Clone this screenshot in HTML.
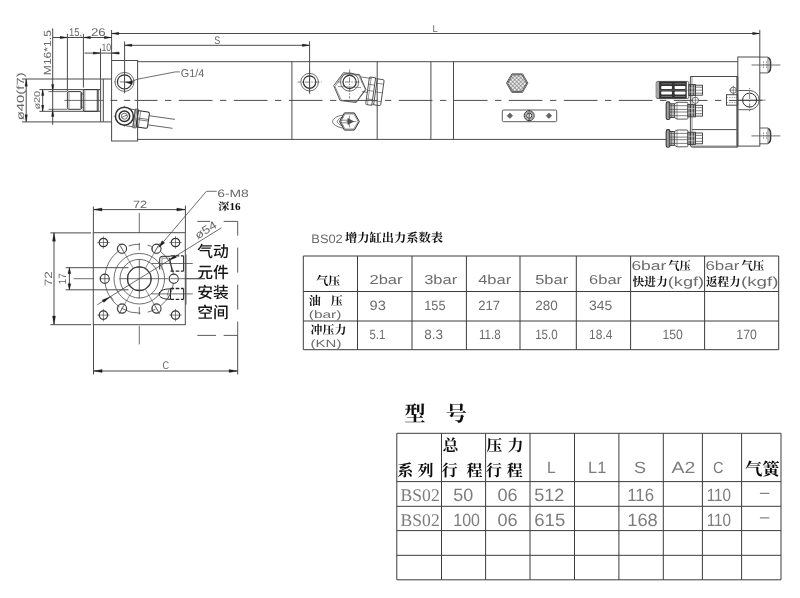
<!DOCTYPE html>
<html lang="zh">
<head>
<meta charset="utf-8">
<title>BS02 增力缸</title>
<style>
html,body{margin:0;padding:0;background:#fff;}
body{width:800px;height:598px;overflow:hidden;font-family:"Liberation Sans","Noto Sans CJK SC",sans-serif;}
svg{display:block;will-change:transform;}
text{text-rendering:geometricPrecision;}
</style>
</head>
<body>
<svg width="800" height="598" viewBox="0 0 800 598">
<rect x="0" y="0" width="800" height="598" fill="#ffffff"/>
<g id="table1">
<line x1="303.30" y1="256.00" x2="303.30" y2="349.70" stroke="#3c3c3c" stroke-width="1.0"/>
<line x1="357.50" y1="256.00" x2="357.50" y2="349.70" stroke="#3c3c3c" stroke-width="1.0"/>
<line x1="412.00" y1="256.00" x2="412.00" y2="349.70" stroke="#3c3c3c" stroke-width="1.0"/>
<line x1="466.40" y1="256.00" x2="466.40" y2="349.70" stroke="#3c3c3c" stroke-width="1.0"/>
<line x1="520.00" y1="256.00" x2="520.00" y2="349.70" stroke="#3c3c3c" stroke-width="1.0"/>
<line x1="576.30" y1="256.00" x2="576.30" y2="349.70" stroke="#3c3c3c" stroke-width="1.0"/>
<line x1="630.60" y1="256.00" x2="630.60" y2="349.70" stroke="#3c3c3c" stroke-width="1.0"/>
<line x1="704.60" y1="256.00" x2="704.60" y2="349.70" stroke="#3c3c3c" stroke-width="1.0"/>
<line x1="778.70" y1="256.00" x2="778.70" y2="349.70" stroke="#3c3c3c" stroke-width="1.0"/>
<line x1="303.30" y1="256.00" x2="778.70" y2="256.00" stroke="#3c3c3c" stroke-width="1.0"/>
<line x1="303.30" y1="291.50" x2="778.70" y2="291.50" stroke="#3c3c3c" stroke-width="1.0"/>
<line x1="303.30" y1="321.00" x2="778.70" y2="321.00" stroke="#3c3c3c" stroke-width="1.0"/>
<line x1="303.30" y1="349.70" x2="778.70" y2="349.70" stroke="#3c3c3c" stroke-width="1.0"/>
<text x="311.30" y="242.60" font-family='"Liberation Sans", "Noto Sans CJK SC", sans-serif' font-size="12.2" fill="#6c6c6c" textLength="31.5" lengthAdjust="spacingAndGlyphs">BS02</text>
<text x="345.00" y="242.40" font-family='"Liberation Serif", "Noto Serif CJK SC", serif' font-size="12.2" fill="#111" font-weight="bold" textLength="98" lengthAdjust="spacingAndGlyphs">增力缸出力系数表</text>
<text x="316.30" y="284.60" font-family='"Liberation Serif", "Noto Serif CJK SC", serif' font-size="12" fill="#111" font-weight="bold" textLength="24" lengthAdjust="spacingAndGlyphs">气压</text>
<text x="369.50" y="284.00" font-family='"Liberation Sans", "Noto Sans CJK SC", sans-serif' font-size="13" fill="#6c6c6c" textLength="33" lengthAdjust="spacingAndGlyphs">2bar</text>
<text x="424.20" y="284.00" font-family='"Liberation Sans", "Noto Sans CJK SC", sans-serif' font-size="13" fill="#6c6c6c" textLength="33" lengthAdjust="spacingAndGlyphs">3bar</text>
<text x="478.20" y="284.00" font-family='"Liberation Sans", "Noto Sans CJK SC", sans-serif' font-size="13" fill="#6c6c6c" textLength="33" lengthAdjust="spacingAndGlyphs">4bar</text>
<text x="535.20" y="284.00" font-family='"Liberation Sans", "Noto Sans CJK SC", sans-serif' font-size="13" fill="#6c6c6c" textLength="33" lengthAdjust="spacingAndGlyphs">5bar</text>
<text x="589.10" y="284.00" font-family='"Liberation Sans", "Noto Sans CJK SC", sans-serif' font-size="13" fill="#6c6c6c" textLength="33" lengthAdjust="spacingAndGlyphs">6bar</text>
<text x="631.40" y="270.00" font-family='"Liberation Sans", "Noto Sans CJK SC", sans-serif' font-size="13" fill="#6c6c6c" textLength="35" lengthAdjust="spacingAndGlyphs">6bar</text>
<text x="668.30" y="270.00" font-family='"Liberation Serif", "Noto Serif CJK SC", serif' font-size="12" fill="#111" font-weight="bold" textLength="22.5" lengthAdjust="spacingAndGlyphs">气压</text>
<text x="632.60" y="286.30" font-family='"Liberation Serif", "Noto Serif CJK SC", serif' font-size="12" fill="#111" font-weight="bold" textLength="35.2" lengthAdjust="spacingAndGlyphs">快进力</text>
<text x="667.80" y="286.00" font-family='"Liberation Sans", "Noto Sans CJK SC", sans-serif' font-size="13" fill="#6c6c6c" textLength="36.3" lengthAdjust="spacingAndGlyphs">(kgf)</text>
<text x="705.40" y="270.00" font-family='"Liberation Sans", "Noto Sans CJK SC", sans-serif' font-size="13" fill="#6c6c6c" textLength="34" lengthAdjust="spacingAndGlyphs">6bar</text>
<text x="741.30" y="270.00" font-family='"Liberation Serif", "Noto Serif CJK SC", serif' font-size="12" fill="#111" font-weight="bold" textLength="23" lengthAdjust="spacingAndGlyphs">气压</text>
<text x="705.90" y="286.30" font-family='"Liberation Serif", "Noto Serif CJK SC", serif' font-size="12" fill="#111" font-weight="bold" textLength="34.6" lengthAdjust="spacingAndGlyphs">返程力</text>
<text x="741.00" y="286.00" font-family='"Liberation Sans", "Noto Sans CJK SC", sans-serif' font-size="13" fill="#6c6c6c" textLength="37.5" lengthAdjust="spacingAndGlyphs">(kgf)</text>
<text x="308.80" y="305.00" font-family='"Liberation Serif", "Noto Serif CJK SC", serif' font-size="12" fill="#111" font-weight="bold">油</text>
<text x="330.70" y="305.00" font-family='"Liberation Serif", "Noto Serif CJK SC", serif' font-size="12" fill="#111" font-weight="bold">压</text>
<text x="308.80" y="318.30" font-family='"Liberation Sans", "Noto Sans CJK SC", sans-serif' font-size="10.6" fill="#6c6c6c" textLength="32.6" lengthAdjust="spacingAndGlyphs">(bar)</text>
<text x="369.50" y="310.30" font-family='"Liberation Sans", "Noto Sans CJK SC", sans-serif' font-size="13.5" fill="#6c6c6c" textLength="16.3" lengthAdjust="spacingAndGlyphs">93</text>
<text x="424.20" y="310.30" font-family='"Liberation Sans", "Noto Sans CJK SC", sans-serif' font-size="13.5" fill="#6c6c6c" textLength="21.4" lengthAdjust="spacingAndGlyphs">155</text>
<text x="478.20" y="310.30" font-family='"Liberation Sans", "Noto Sans CJK SC", sans-serif' font-size="13.5" fill="#6c6c6c" textLength="21.8" lengthAdjust="spacingAndGlyphs">217</text>
<text x="535.20" y="310.30" font-family='"Liberation Sans", "Noto Sans CJK SC", sans-serif' font-size="13.5" fill="#6c6c6c" textLength="22.5" lengthAdjust="spacingAndGlyphs">280</text>
<text x="589.10" y="310.30" font-family='"Liberation Sans", "Noto Sans CJK SC", sans-serif' font-size="13.5" fill="#6c6c6c" textLength="23.3" lengthAdjust="spacingAndGlyphs">345</text>
<text x="310.60" y="333.60" font-family='"Liberation Serif", "Noto Serif CJK SC", serif' font-size="12" fill="#111" font-weight="bold" textLength="35.8" lengthAdjust="spacingAndGlyphs">冲压力</text>
<text x="310.60" y="347.20" font-family='"Liberation Sans", "Noto Sans CJK SC", sans-serif' font-size="10.6" fill="#6c6c6c" textLength="30.8" lengthAdjust="spacingAndGlyphs">(KN)</text>
<text x="369.50" y="339.20" font-family='"Liberation Sans", "Noto Sans CJK SC", sans-serif' font-size="13.5" fill="#6c6c6c" textLength="15.8" lengthAdjust="spacingAndGlyphs">5.1</text>
<text x="424.20" y="339.20" font-family='"Liberation Sans", "Noto Sans CJK SC", sans-serif' font-size="13.5" fill="#6c6c6c" textLength="18.8" lengthAdjust="spacingAndGlyphs">8.3</text>
<text x="478.90" y="339.20" font-family='"Liberation Sans", "Noto Sans CJK SC", sans-serif' font-size="13.5" fill="#6c6c6c" textLength="21.7" lengthAdjust="spacingAndGlyphs">11.8</text>
<text x="535.20" y="339.20" font-family='"Liberation Sans", "Noto Sans CJK SC", sans-serif' font-size="13.5" fill="#6c6c6c" textLength="22.5" lengthAdjust="spacingAndGlyphs">15.0</text>
<text x="589.10" y="339.20" font-family='"Liberation Sans", "Noto Sans CJK SC", sans-serif' font-size="13.5" fill="#6c6c6c" textLength="23.3" lengthAdjust="spacingAndGlyphs">18.4</text>
<text x="662.40" y="339.20" font-family='"Liberation Sans", "Noto Sans CJK SC", sans-serif' font-size="13.5" fill="#6c6c6c" textLength="20.4" lengthAdjust="spacingAndGlyphs">150</text>
<text x="736.30" y="339.20" font-family='"Liberation Sans", "Noto Sans CJK SC", sans-serif' font-size="13.5" fill="#6c6c6c" textLength="20.5" lengthAdjust="spacingAndGlyphs">170</text>
</g>
<g id="table2">
<line x1="396.80" y1="433.30" x2="396.80" y2="579.80" stroke="#3c3c3c" stroke-width="1.0"/>
<line x1="441.50" y1="433.30" x2="441.50" y2="579.80" stroke="#3c3c3c" stroke-width="1.0"/>
<line x1="485.60" y1="433.30" x2="485.60" y2="579.80" stroke="#3c3c3c" stroke-width="1.0"/>
<line x1="530.00" y1="433.30" x2="530.00" y2="579.80" stroke="#3c3c3c" stroke-width="1.0"/>
<line x1="574.50" y1="433.30" x2="574.50" y2="579.80" stroke="#3c3c3c" stroke-width="1.0"/>
<line x1="618.90" y1="433.30" x2="618.90" y2="579.80" stroke="#3c3c3c" stroke-width="1.0"/>
<line x1="663.30" y1="433.30" x2="663.30" y2="579.80" stroke="#3c3c3c" stroke-width="1.0"/>
<line x1="702.40" y1="433.30" x2="702.40" y2="579.80" stroke="#3c3c3c" stroke-width="1.0"/>
<line x1="741.60" y1="433.30" x2="741.60" y2="579.80" stroke="#3c3c3c" stroke-width="1.0"/>
<line x1="781.00" y1="433.30" x2="781.00" y2="579.80" stroke="#3c3c3c" stroke-width="1.0"/>
<line x1="396.80" y1="433.30" x2="781.00" y2="433.30" stroke="#3c3c3c" stroke-width="1.0"/>
<line x1="396.80" y1="481.60" x2="781.00" y2="481.60" stroke="#3c3c3c" stroke-width="1.0"/>
<line x1="396.80" y1="506.30" x2="781.00" y2="506.30" stroke="#3c3c3c" stroke-width="1.0"/>
<line x1="396.80" y1="530.60" x2="781.00" y2="530.60" stroke="#3c3c3c" stroke-width="1.0"/>
<line x1="396.80" y1="555.30" x2="781.00" y2="555.30" stroke="#3c3c3c" stroke-width="1.0"/>
<line x1="396.80" y1="579.80" x2="781.00" y2="579.80" stroke="#3c3c3c" stroke-width="1.0"/>
<text x="404.60" y="420.80" font-family='"Liberation Serif", "Noto Serif CJK SC", serif' font-size="21" fill="#0c0c0c" font-weight="bold">型</text>
<text x="445.80" y="420.80" font-family='"Liberation Serif", "Noto Serif CJK SC", serif' font-size="21" fill="#0c0c0c" font-weight="bold">号</text>
<text x="442.60" y="451.20" font-family='"Liberation Serif", "Noto Serif CJK SC", serif' font-size="16" fill="#0c0c0c" font-weight="bold">总</text>
<text x="486.20" y="451.20" font-family='"Liberation Serif", "Noto Serif CJK SC", serif' font-size="16" fill="#0c0c0c" font-weight="bold">压</text>
<text x="507.40" y="451.20" font-family='"Liberation Serif", "Noto Serif CJK SC", serif' font-size="16" fill="#0c0c0c" font-weight="bold">力</text>
<text x="397.20" y="476.20" font-family='"Liberation Serif", "Noto Serif CJK SC", serif' font-size="16" fill="#0c0c0c" font-weight="bold">系</text>
<text x="417.40" y="476.20" font-family='"Liberation Serif", "Noto Serif CJK SC", serif' font-size="16" fill="#0c0c0c" font-weight="bold">列</text>
<text x="441.80" y="476.20" font-family='"Liberation Serif", "Noto Serif CJK SC", serif' font-size="16" fill="#0c0c0c" font-weight="bold">行</text>
<text x="466.60" y="476.20" font-family='"Liberation Serif", "Noto Serif CJK SC", serif' font-size="16" fill="#0c0c0c" font-weight="bold">程</text>
<text x="486.00" y="476.20" font-family='"Liberation Serif", "Noto Serif CJK SC", serif' font-size="16" fill="#0c0c0c" font-weight="bold">行</text>
<text x="506.80" y="476.20" font-family='"Liberation Serif", "Noto Serif CJK SC", serif' font-size="16" fill="#0c0c0c" font-weight="bold">程</text>
<text x="546.90" y="473.30" font-family='"Liberation Sans", "Noto Sans CJK SC", sans-serif' font-size="16.2" fill="#7c7c7c" textLength="8.7" lengthAdjust="spacingAndGlyphs">L</text>
<text x="588.00" y="473.30" font-family='"Liberation Sans", "Noto Sans CJK SC", sans-serif' font-size="16.2" fill="#7c7c7c" textLength="18.3" lengthAdjust="spacingAndGlyphs">L1</text>
<text x="633.90" y="473.30" font-family='"Liberation Sans", "Noto Sans CJK SC", sans-serif' font-size="16.2" fill="#7c7c7c" textLength="12.1" lengthAdjust="spacingAndGlyphs">S</text>
<text x="671.60" y="473.30" font-family='"Liberation Sans", "Noto Sans CJK SC", sans-serif' font-size="16.2" fill="#7c7c7c" textLength="23.8" lengthAdjust="spacingAndGlyphs">A2</text>
<text x="713.00" y="473.30" font-family='"Liberation Sans", "Noto Sans CJK SC", sans-serif' font-size="16.2" fill="#7c7c7c" textLength="10.5" lengthAdjust="spacingAndGlyphs">C</text>
<text x="744.90" y="475.30" font-family='"Liberation Serif", "Noto Serif CJK SC", serif' font-size="17" fill="#0c0c0c" font-weight="bold" textLength="34.6" lengthAdjust="spacingAndGlyphs">气簧</text>
<text x="400.60" y="500.90" font-family='"Liberation Serif", "Noto Serif CJK SC", serif' font-size="17.8" fill="#7c7c7c" textLength="39.1" lengthAdjust="spacingAndGlyphs">BS02</text>
<text x="453.30" y="500.90" font-family='"Liberation Sans", "Noto Sans CJK SC", sans-serif' font-size="17.8" fill="#7c7c7c" textLength="20" lengthAdjust="spacingAndGlyphs">50</text>
<text x="497.40" y="500.90" font-family='"Liberation Sans", "Noto Sans CJK SC", sans-serif' font-size="17.8" fill="#7c7c7c" textLength="20.1" lengthAdjust="spacingAndGlyphs">06</text>
<text x="534.30" y="500.90" font-family='"Liberation Sans", "Noto Sans CJK SC", sans-serif' font-size="17.8" fill="#7c7c7c" textLength="30.1" lengthAdjust="spacingAndGlyphs">512</text>
<text x="627.20" y="500.90" font-family='"Liberation Sans", "Noto Sans CJK SC", sans-serif' font-size="17.8" fill="#7c7c7c" textLength="26.8" lengthAdjust="spacingAndGlyphs">116</text>
<text x="706.70" y="500.90" font-family='"Liberation Sans", "Noto Sans CJK SC", sans-serif' font-size="17.8" fill="#7c7c7c" textLength="24.3" lengthAdjust="spacingAndGlyphs">110</text>
<text x="400.60" y="525.60" font-family='"Liberation Serif", "Noto Serif CJK SC", serif' font-size="17.8" fill="#7c7c7c" textLength="39.1" lengthAdjust="spacingAndGlyphs">BS02</text>
<text x="453.30" y="525.60" font-family='"Liberation Sans", "Noto Sans CJK SC", sans-serif' font-size="17.8" fill="#7c7c7c" textLength="26.6" lengthAdjust="spacingAndGlyphs">100</text>
<text x="497.40" y="525.60" font-family='"Liberation Sans", "Noto Sans CJK SC", sans-serif' font-size="17.8" fill="#7c7c7c" textLength="20.1" lengthAdjust="spacingAndGlyphs">06</text>
<text x="534.30" y="525.60" font-family='"Liberation Sans", "Noto Sans CJK SC", sans-serif' font-size="17.8" fill="#7c7c7c" textLength="30.9" lengthAdjust="spacingAndGlyphs">615</text>
<text x="627.20" y="525.60" font-family='"Liberation Sans", "Noto Sans CJK SC", sans-serif' font-size="17.8" fill="#7c7c7c" textLength="30.6" lengthAdjust="spacingAndGlyphs">168</text>
<text x="706.70" y="525.60" font-family='"Liberation Sans", "Noto Sans CJK SC", sans-serif' font-size="17.8" fill="#7c7c7c" textLength="24.3" lengthAdjust="spacingAndGlyphs">110</text>
<line x1="759.90" y1="493.30" x2="769.40" y2="493.30" stroke="#666" stroke-width="1.0"/>
<line x1="759.90" y1="517.90" x2="769.40" y2="517.90" stroke="#666" stroke-width="1.0"/>
</g>
<g id="topview">
<line x1="111.60" y1="33.50" x2="759.80" y2="33.50" stroke="#4a4a4a" stroke-width="1.0"/>
<polygon points="111.60,33.50 118.80,32.30 118.80,34.70" fill="#1c1c1c" stroke="#1c1c1c" stroke-width="0.3"/>
<polygon points="759.80,33.50 752.60,34.70 752.60,32.30" fill="#1c1c1c" stroke="#1c1c1c" stroke-width="0.3"/>
<line x1="111.60" y1="30.00" x2="111.60" y2="60.40" stroke="#4a4a4a" stroke-width="1.0"/>
<line x1="759.80" y1="29.80" x2="759.80" y2="57.00" stroke="#4a4a4a" stroke-width="1.0"/>
<text x="432.60" y="32.00" font-family='"Liberation Sans", "Noto Sans CJK SC", sans-serif' font-size="9.8" fill="#686868" textLength="5.2" lengthAdjust="spacingAndGlyphs">L</text>
<line x1="124.60" y1="45.30" x2="309.60" y2="45.30" stroke="#4a4a4a" stroke-width="1.0"/>
<polygon points="124.60,45.30 131.80,44.10 131.80,46.50" fill="#1c1c1c" stroke="#1c1c1c" stroke-width="0.3"/>
<polygon points="309.60,45.30 302.40,46.50 302.40,44.10" fill="#1c1c1c" stroke="#1c1c1c" stroke-width="0.3"/>
<line x1="124.60" y1="41.40" x2="124.60" y2="93.40" stroke="#4a4a4a" stroke-width="1.0"/>
<line x1="309.60" y1="41.40" x2="309.60" y2="93.40" stroke="#4a4a4a" stroke-width="1.0"/>
<text x="214.20" y="44.00" font-family='"Liberation Sans", "Noto Sans CJK SC", sans-serif' font-size="11" fill="#686868" textLength="6.0" lengthAdjust="spacingAndGlyphs">S</text>
<line x1="52.70" y1="37.50" x2="111.60" y2="37.50" stroke="#4a4a4a" stroke-width="1.0"/>
<polygon points="67.40,37.50 60.20,38.70 60.20,36.30" fill="#1c1c1c" stroke="#1c1c1c" stroke-width="0.3"/>
<polygon points="83.20,37.50 90.40,36.30 90.40,38.70" fill="#1c1c1c" stroke="#1c1c1c" stroke-width="0.3"/>
<polygon points="111.60,37.50 104.40,38.70 104.40,36.30" fill="#1c1c1c" stroke="#1c1c1c" stroke-width="0.3"/>
<line x1="67.40" y1="33.80" x2="67.40" y2="91.00" stroke="#4a4a4a" stroke-width="1.0"/>
<line x1="83.40" y1="33.80" x2="83.40" y2="87.60" stroke="#4a4a4a" stroke-width="1.0"/>
<text x="68.90" y="35.60" font-family='"Liberation Sans", "Noto Sans CJK SC", sans-serif' font-size="11.2" fill="#686868" textLength="13.2" lengthAdjust="spacingAndGlyphs">15,</text>
<text x="90.90" y="35.60" font-family='"Liberation Sans", "Noto Sans CJK SC", sans-serif' font-size="11.2" fill="#686868" textLength="14.8" lengthAdjust="spacingAndGlyphs">26</text>
<line x1="84.50" y1="53.10" x2="120.00" y2="53.10" stroke="#4a4a4a" stroke-width="1.0"/>
<polygon points="100.50,53.10 93.30,54.30 93.30,51.90" fill="#1c1c1c" stroke="#1c1c1c" stroke-width="0.3"/>
<polygon points="111.60,53.10 118.80,51.90 118.80,54.30" fill="#1c1c1c" stroke="#1c1c1c" stroke-width="0.3"/>
<line x1="100.50" y1="48.50" x2="100.50" y2="78.90" stroke="#4a4a4a" stroke-width="1.0"/>
<text x="101.40" y="50.50" font-family='"Liberation Sans", "Noto Sans CJK SC", sans-serif' font-size="10.6" fill="#686868" textLength="9.8" lengthAdjust="spacingAndGlyphs">10</text>
<line x1="52.70" y1="28.30" x2="52.70" y2="124.90" stroke="#4a4a4a" stroke-width="1.0"/>
<polygon points="52.70,91.60 51.50,84.40 53.90,84.40" fill="#1c1c1c" stroke="#1c1c1c" stroke-width="0.3"/>
<polygon points="52.70,109.30 53.90,116.50 51.50,116.50" fill="#1c1c1c" stroke="#1c1c1c" stroke-width="0.3"/>
<line x1="48.50" y1="91.60" x2="67.40" y2="91.60" stroke="#4a4a4a" stroke-width="0.8"/>
<line x1="48.50" y1="109.30" x2="67.40" y2="109.30" stroke="#4a4a4a" stroke-width="0.8"/>
<text x="50.80" y="75.20" font-family='"Liberation Sans", "Noto Sans CJK SC", sans-serif' font-size="10.4" fill="#686868" textLength="45.1" lengthAdjust="spacingAndGlyphs" transform="rotate(-90 50.80 75.20)">M16*1.5</text>
<line x1="42.70" y1="89.60" x2="42.70" y2="111.30" stroke="#4a4a4a" stroke-width="1.0"/>
<polygon points="42.70,89.60 43.90,95.60 41.50,95.60" fill="#1c1c1c" stroke="#1c1c1c" stroke-width="0.3"/>
<polygon points="42.70,111.30 41.50,105.30 43.90,105.30" fill="#1c1c1c" stroke="#1c1c1c" stroke-width="0.3"/>
<line x1="39.40" y1="89.60" x2="100.60" y2="89.60" stroke="#4a4a4a" stroke-width="1.0"/>
<line x1="39.40" y1="111.30" x2="100.60" y2="111.30" stroke="#4a4a4a" stroke-width="1.0"/>
<text x="40.40" y="109.60" font-family='"Liberation Sans", "Noto Sans CJK SC", sans-serif' font-size="8.4" fill="#686868" textLength="18.8" lengthAdjust="spacingAndGlyphs" transform="rotate(-90 40.40 109.60)">ø20</text>
<line x1="26.20" y1="79.00" x2="26.20" y2="121.90" stroke="#4a4a4a" stroke-width="1.0"/>
<polygon points="26.20,79.00 27.40,86.20 25.00,86.20" fill="#1c1c1c" stroke="#1c1c1c" stroke-width="0.3"/>
<polygon points="26.20,121.90 25.00,114.70 27.40,114.70" fill="#1c1c1c" stroke="#1c1c1c" stroke-width="0.3"/>
<line x1="22.00" y1="79.00" x2="111.60" y2="79.00" stroke="#4a4a4a" stroke-width="1.0"/>
<line x1="22.00" y1="121.90" x2="111.60" y2="121.90" stroke="#4a4a4a" stroke-width="1.0"/>
<text x="23.80" y="120.30" font-family='"Liberation Sans", "Noto Sans CJK SC", sans-serif' font-size="10.4" fill="#686868" textLength="48" lengthAdjust="spacingAndGlyphs" transform="rotate(-90 23.80 120.30)">ø40(f7)</text>
<line x1="134.60" y1="100.40" x2="770.00" y2="100.40" stroke="#4a4a4a" stroke-width="1.0" stroke-dasharray="33.7 7.5 6.3 7.5" stroke-dashoffset="10.8"/>
<line x1="64.30" y1="100.40" x2="103.30" y2="100.40" stroke="#4a4a4a" stroke-width="0.8"/>
<line x1="110.40" y1="100.40" x2="117.20" y2="100.40" stroke="#4a4a4a" stroke-width="1.0"/>
<line x1="124.20" y1="100.40" x2="130.20" y2="100.40" stroke="#4a4a4a" stroke-width="1.0"/>
<path d="M69.0,91.6 H80.4 Q81.6,91.6 81.6,92.8 V108.1 Q81.6,109.3 80.4,109.3 H69.0 Q67.4,109.3 67.4,107.7 V93.2 Q67.4,91.6 69.0,91.6 Z" fill="none" stroke="#3a3a3a" stroke-width="1.0"/>
<line x1="69.00" y1="92.20" x2="69.00" y2="108.70" stroke="#4a4a4a" stroke-width="0.6"/>
<line x1="80.60" y1="92.20" x2="80.60" y2="108.70" stroke="#4a4a4a" stroke-width="0.6"/>
<line x1="81.60" y1="94.00" x2="83.30" y2="94.00" stroke="#4a4a4a" stroke-width="0.7"/>
<line x1="81.60" y1="107.30" x2="83.30" y2="107.30" stroke="#4a4a4a" stroke-width="0.7"/>
<path d="M84.5,89.6 H97.3 V111.3 H84.5 Q83.3,111.3 83.3,110.1 V90.8 Q83.3,89.6 84.5,89.6 Z" fill="none" stroke="#3a3a3a" stroke-width="1.0"/>
<line x1="84.80" y1="90.20" x2="84.80" y2="110.70" stroke="#4a4a4a" stroke-width="0.6"/>
<line x1="98.60" y1="89.60" x2="98.60" y2="111.30" stroke="#4a4a4a" stroke-width="0.8"/>
<line x1="100.60" y1="79.00" x2="100.60" y2="121.90" stroke="#4a4a4a" stroke-width="1.0"/>
<line x1="103.30" y1="79.00" x2="103.30" y2="121.90" stroke="#4a4a4a" stroke-width="1.0"/>
<rect x="111.60" y="60.50" width="26.00" height="80.50" fill="none" stroke="#4a4a4a" stroke-width="1.0"/>
<line x1="137.60" y1="61.70" x2="737.80" y2="61.70" stroke="#4a4a4a" stroke-width="1.0"/>
<line x1="137.60" y1="139.40" x2="666.30" y2="139.40" stroke="#4a4a4a" stroke-width="1.0"/>
<line x1="291.90" y1="61.70" x2="291.90" y2="139.40" stroke="#4a4a4a" stroke-width="1.0"/>
<line x1="377.20" y1="61.70" x2="377.20" y2="139.40" stroke="#4a4a4a" stroke-width="1.0"/>
<line x1="430.90" y1="61.70" x2="430.90" y2="139.40" stroke="#4a4a4a" stroke-width="1.0"/>
<line x1="453.50" y1="61.70" x2="453.50" y2="139.40" stroke="#4a4a4a" stroke-width="1.0"/>
<circle cx="124.50" cy="81.90" r="9.50" fill="none" stroke="#4a4a4a" stroke-width="0.8"/>
<circle cx="124.50" cy="81.90" r="7.10" fill="none" stroke="#2e2e2e" stroke-width="1.15"/>
<line x1="114.00" y1="81.90" x2="135.00" y2="81.90" stroke="#4a4a4a" stroke-width="0.7" stroke-dasharray="5 1.5 1.5 1.5" stroke-dashoffset="-5.75"/>
<line x1="124.50" y1="71.40" x2="124.50" y2="92.40" stroke="#4a4a4a" stroke-width="0.7" stroke-dasharray="5 1.5 1.5 1.5" stroke-dashoffset="-5.75"/>
<polygon points="124.80,82.00 132.54,81.34 132.15,84.51" fill="#1c1c1c" stroke="#1c1c1c" stroke-width="0.3"/>
<path d="M132.0,81.2 L137.6,79.2 L175.3,71.9 H179.8" fill="none" stroke="#4a4a4a" stroke-width="0.8"/>
<text x="180.80" y="76.80" font-family='"Liberation Sans", "Noto Sans CJK SC", sans-serif' font-size="11.4" fill="#686868" textLength="23.5" lengthAdjust="spacingAndGlyphs">G1/4</text>
<circle cx="309.60" cy="82.10" r="8.80" fill="none" stroke="#4a4a4a" stroke-width="0.8"/>
<circle cx="309.60" cy="82.10" r="6.20" fill="none" stroke="#2e2e2e" stroke-width="1.15"/>
<line x1="297.60" y1="82.10" x2="321.60" y2="82.10" stroke="#4a4a4a" stroke-width="0.7" stroke-dasharray="5 1.5 1.5 1.5" stroke-dashoffset="-7.25"/>
<line x1="309.60" y1="70.10" x2="309.60" y2="94.10" stroke="#4a4a4a" stroke-width="0.7" stroke-dasharray="5 1.5 1.5 1.5" stroke-dashoffset="-7.25"/>
<g transform="rotate(8 124.4 116.2) translate(-0.6 0.7)">
<path d="M127.4,107.60000000000001 H134.9 V124.8 H127.4" fill="none" stroke="#4a4a4a" stroke-width="0.8"/>
<rect x="134.90" y="106.80" width="3.10" height="18.80" fill="none" stroke="#4a4a4a" stroke-width="0.8"/>
<line x1="136.40" y1="106.80" x2="136.40" y2="125.60" stroke="#4a4a4a" stroke-width="0.6"/>
<path d="M139.0,108.0 H147.8 Q149.4,108.0 149.4,109.60000000000001 V122.8 Q149.4,124.4 147.8,124.4 H139.0 Q138.0,124.4 138.0,123.4 V109.0 Q138.0,108.0 139.0,108.0 Z" fill="none" stroke="#2e2e2e" stroke-width="1.0"/>
<line x1="138.00" y1="115.40" x2="149.40" y2="115.40" stroke="#4a4a4a" stroke-width="0.7"/>
<line x1="138.00" y1="117.00" x2="149.40" y2="117.00" stroke="#4a4a4a" stroke-width="0.7"/>
<line x1="140.40" y1="108.00" x2="140.40" y2="124.40" stroke="#4a4a4a" stroke-width="0.6"/>
<line x1="149.40" y1="111.60" x2="175.40" y2="111.60" stroke="#4a4a4a" stroke-width="0.8"/>
<line x1="149.40" y1="120.80" x2="174.40" y2="120.80" stroke="#4a4a4a" stroke-width="0.8"/>
</g>
<circle cx="124.40" cy="116.20" r="9.00" fill="#fff" stroke="#2e2e2e" stroke-width="1.5"/>
<circle cx="124.40" cy="116.20" r="5.30" fill="none" stroke="#2e2e2e" stroke-width="1.5"/>
<circle cx="124.40" cy="116.20" r="3.00" fill="none" stroke="#4a4a4a" stroke-width="0.8"/>
<line x1="121.80" y1="117.40" x2="127.00" y2="115.00" stroke="#4a4a4a" stroke-width="0.8"/>
<line x1="113.90" y1="116.20" x2="116.40" y2="116.20" stroke="#4a4a4a" stroke-width="0.7"/>
<line x1="124.40" y1="105.70" x2="124.40" y2="108.20" stroke="#4a4a4a" stroke-width="0.7"/>
<line x1="124.40" y1="124.20" x2="124.40" y2="126.70" stroke="#4a4a4a" stroke-width="0.7"/>
<polygon points="365.88,89.57 356.13,102.51 340.05,100.54 333.72,85.63 343.47,72.69 359.55,74.66" fill="none" stroke="#4a4a4a" stroke-width="0.9"/>
<polygon points="365.24,89.12 356.52,101.58 341.38,100.25 334.96,86.48 343.68,74.02 358.82,75.35" fill="none" stroke="#4a4a4a" stroke-width="0.6"/>
<g transform="rotate(8 349.8 87.6) translate(0.6 1.3)">
<line x1="358.80" y1="74.20" x2="369.30" y2="74.20" stroke="#4a4a4a" stroke-width="0.7"/>
<line x1="361.80" y1="88.60" x2="367.30" y2="88.60" stroke="#4a4a4a" stroke-width="0.7"/>
<path d="M368.2,73.0 H373.40000000000003 V100.8 H368.2 Q367.2,100.8 367.2,99.8 V74.0 Q367.2,73.0 368.2,73.0 Z" fill="none" stroke="#4a4a4a" stroke-width="0.9"/>
<line x1="367.20" y1="80.40" x2="373.40" y2="80.40" stroke="#4a4a4a" stroke-width="0.6"/>
<line x1="367.20" y1="86.60" x2="373.40" y2="86.60" stroke="#4a4a4a" stroke-width="0.6"/>
<line x1="367.20" y1="95.00" x2="373.40" y2="95.00" stroke="#4a4a4a" stroke-width="0.6"/>
<line x1="369.00" y1="73.00" x2="369.00" y2="100.80" stroke="#4a4a4a" stroke-width="0.5"/>
<path d="M375.2,73.8 H381.0 Q382.2,73.8 382.2,75.0 V98.8 Q382.2,100.0 381.0,100.0 H375.2 Z" fill="none" stroke="#4a4a4a" stroke-width="0.9"/>
<line x1="373.40" y1="73.80" x2="375.20" y2="73.80" stroke="#4a4a4a" stroke-width="0.6"/>
<line x1="373.40" y1="100.00" x2="375.20" y2="100.00" stroke="#4a4a4a" stroke-width="0.6"/>
<line x1="375.20" y1="78.20" x2="382.20" y2="78.20" stroke="#4a4a4a" stroke-width="0.6"/>
<line x1="375.20" y1="87.00" x2="382.20" y2="87.00" stroke="#4a4a4a" stroke-width="0.6"/>
<line x1="375.20" y1="95.80" x2="382.20" y2="95.80" stroke="#4a4a4a" stroke-width="0.6"/>
</g>
<circle cx="349.60" cy="82.00" r="9.10" fill="none" stroke="#4a4a4a" stroke-width="0.8"/>
<circle cx="349.60" cy="82.00" r="6.60" fill="none" stroke="#2e2e2e" stroke-width="1.15"/>
<line x1="337.60" y1="82.00" x2="361.60" y2="82.00" stroke="#4a4a4a" stroke-width="0.7" stroke-dasharray="5 1.5 1.5 1.5" stroke-dashoffset="-7.25"/>
<line x1="349.60" y1="69.50" x2="349.60" y2="98.50" stroke="#4a4a4a" stroke-width="0.7" stroke-dasharray="5 1.5 1.5 1.5" stroke-dashoffset="-7.75"/>
<line x1="338.00" y1="86.50" x2="361.00" y2="87.50" stroke="#4a4a4a" stroke-width="0.6"/>
<path d="M342.9,115.1 C336.4,116.0 332.59999999999997,119.0 332.59999999999997,121.5 C332.59999999999997,124.0 336.4,127.0 342.9,128.1" fill="none" stroke="#4a4a4a" stroke-width="0.8"/>
<path d="M343.4,117.3 C339.4,118.0 337.2,120.0 337.2,121.5 C337.2,123.0 339.4,125.0 343.4,125.9" fill="none" stroke="#4a4a4a" stroke-width="0.7"/>
<polygon points="359.30,121.50 354.35,130.07 344.45,130.07 339.50,121.50 344.45,112.93 354.35,112.93" fill="none" stroke="#2e2e2e" stroke-width="1.0" fill="#fff"/>
<polygon points="358.10,121.50 353.75,129.03 345.05,129.03 340.70,121.50 345.05,113.97 353.75,113.97" fill="none" stroke="#4a4a4a" stroke-width="0.6"/>
<line x1="340.90" y1="120.20" x2="347.90" y2="120.20" stroke="#4a4a4a" stroke-width="0.7"/>
<line x1="340.90" y1="122.80" x2="347.90" y2="122.80" stroke="#4a4a4a" stroke-width="0.7"/>
<line x1="340.90" y1="120.20" x2="340.90" y2="122.80" stroke="#4a4a4a" stroke-width="0.7"/>
<polygon points="353.60,121.50 347.90,118.50 347.90,124.50" fill="#555" stroke="#2e2e2e" stroke-width="0.5"/>
<line x1="346.40" y1="121.50" x2="356.40" y2="121.50" stroke="#4a4a4a" stroke-width="0.6"/>
<line x1="349.40" y1="115.50" x2="349.40" y2="127.50" stroke="#4a4a4a" stroke-width="0.6"/>
<polygon points="527.90,83.10 522.55,92.37 511.85,92.37 506.50,83.10 511.85,73.83 522.55,73.83" fill="#fff" stroke="#4a4a4a" stroke-width="0.9"/>
<defs><pattern id="mesh" width="2.8" height="2.8" patternUnits="userSpaceOnUse" patternTransform="rotate(45)"><rect width="2.8" height="2.8" fill="#e8e8e8"/><path d="M0,0H2.8M0,0V2.8" stroke="#5a5a5a" stroke-width="0.85"/></pattern></defs>
<polygon points="526.80,83.10 522.00,91.41 512.40,91.41 507.60,83.10 512.40,74.79 522.00,74.79" fill="url(#mesh)" stroke="#4a4a4a" stroke-width="0.9"/>
<rect x="502.3" y="110.0" width="54.4" height="11.7" rx="1.2" fill="none" stroke="#4a4a4a" stroke-width="0.9"/>
<polygon points="507.10,115.70 509.90,112.90 512.70,115.70 509.90,118.50" fill="#666" stroke="#4a4a4a" stroke-width="0.5"/>
<polygon points="546.10,115.70 548.90,112.90 551.70,115.70 548.90,118.50" fill="#666" stroke="#4a4a4a" stroke-width="0.5"/>
<circle cx="529.20" cy="115.70" r="5.00" fill="none" stroke="#2e2e2e" stroke-width="1.0"/>
<circle cx="529.20" cy="115.70" r="3.90" fill="none" stroke="#4a4a4a" stroke-width="0.6"/>
<circle cx="529.20" cy="115.70" r="2.60" fill="none" stroke="#2e2e2e" stroke-width="1.0"/>
<line x1="529.20" y1="113.60" x2="529.20" y2="117.80" stroke="#4a4a4a" stroke-width="0.8"/>
<line x1="529.20" y1="109.60" x2="529.20" y2="121.90" stroke="#4a4a4a" stroke-width="0.6"/>
<path d="M690.4,76.5 H737.8 V147.1 H692.4 Q690.4,147.1 690.4,145.1 Z" fill="none" stroke="#4a4a4a" stroke-width="1.0"/>
<line x1="692.00" y1="76.50" x2="692.00" y2="146.20" stroke="#4a4a4a" stroke-width="0.6"/>
<line x1="736.60" y1="76.50" x2="736.60" y2="147.10" stroke="#4a4a4a" stroke-width="0.7"/>
<line x1="692.00" y1="129.60" x2="736.60" y2="129.60" stroke="#4a4a4a" stroke-width="1.0"/>
<line x1="692.00" y1="146.10" x2="736.60" y2="146.10" stroke="#4a4a4a" stroke-width="0.7"/>
<circle cx="695.40" cy="100.30" r="3.10" fill="#fff" stroke="#4a4a4a" stroke-width="0.8"/>
<line x1="691.00" y1="100.30" x2="699.80" y2="100.30" stroke="#4a4a4a" stroke-width="0.6"/>
<line x1="695.40" y1="95.90" x2="695.40" y2="104.70" stroke="#4a4a4a" stroke-width="0.6"/>
<circle cx="733.30" cy="90.20" r="3.10" fill="#fff" stroke="#4a4a4a" stroke-width="0.8"/>
<line x1="728.90" y1="90.20" x2="737.70" y2="90.20" stroke="#4a4a4a" stroke-width="0.6"/>
<line x1="733.30" y1="85.80" x2="733.30" y2="94.60" stroke="#4a4a4a" stroke-width="0.6"/>
<rect x="726.50" y="94.70" width="11.10" height="10.50" fill="none" stroke="#4a4a4a" stroke-width="1.0"/>
<line x1="726.50" y1="97.40" x2="737.60" y2="97.40" stroke="#4a4a4a" stroke-width="0.5" stroke-dasharray="1.5 1"/>
<line x1="726.50" y1="102.60" x2="737.60" y2="102.60" stroke="#4a4a4a" stroke-width="0.5" stroke-dasharray="1.5 1"/>
<rect x="656.2" y="81.4" width="32.6" height="17.2" rx="1.5" fill="#fff" stroke="#4a4a4a" stroke-width="0.8"/>
<line x1="657.60" y1="81.40" x2="657.60" y2="98.60" stroke="#4a4a4a" stroke-width="0.5"/>
<line x1="658.40" y1="81.40" x2="658.40" y2="98.60" stroke="#4a4a4a" stroke-width="0.5"/>
<rect x="659.30" y="81.90" width="27.00" height="16.20" fill="#333" stroke="#222" stroke-width="0.6"/>
<rect x="661.2" y="86.0" width="10.8" height="3.0" rx="0.8" fill="#fff"/>
<rect x="661.2" y="91.5" width="10.8" height="3.0" rx="0.8" fill="#fff"/>
<line x1="661.20" y1="83.80" x2="672.00" y2="83.80" stroke="#aaa" stroke-width="0.5"/>
<line x1="661.20" y1="96.50" x2="672.00" y2="96.50" stroke="#aaa" stroke-width="0.5"/>
<rect x="674.6" y="86.0" width="10.8" height="3.0" rx="0.8" fill="#fff"/>
<rect x="674.6" y="91.5" width="10.8" height="3.0" rx="0.8" fill="#fff"/>
<line x1="674.60" y1="83.80" x2="685.40" y2="83.80" stroke="#aaa" stroke-width="0.5"/>
<line x1="674.60" y1="96.50" x2="685.40" y2="96.50" stroke="#aaa" stroke-width="0.5"/>
<line x1="656.20" y1="90.20" x2="688.80" y2="90.20" stroke="#888" stroke-width="0.5"/>
<rect x="688.80" y="84.40" width="6.60" height="11.20" fill="#a8a8a8" stroke="#333" stroke-width="0.8"/>
<line x1="690.40" y1="84.40" x2="690.40" y2="95.60" stroke="#3a3a3a" stroke-width="1.4"/>
<line x1="693.40" y1="84.40" x2="693.40" y2="95.60" stroke="#555" stroke-width="1.2"/>
<line x1="688.80" y1="88.00" x2="695.40" y2="88.00" stroke="#eee" stroke-width="0.5"/>
<line x1="688.80" y1="92.00" x2="695.40" y2="92.00" stroke="#eee" stroke-width="0.5"/>
<rect x="695.40" y="85.20" width="7.10" height="10.00" fill="none" stroke="#3a3a3a" stroke-width="0.9"/>
<line x1="695.40" y1="87.20" x2="702.50" y2="87.20" stroke="#4a4a4a" stroke-width="0.7"/>
<line x1="695.40" y1="90.20" x2="702.50" y2="90.20" stroke="#4a4a4a" stroke-width="0.6"/>
<line x1="695.40" y1="93.20" x2="702.50" y2="93.20" stroke="#4a4a4a" stroke-width="0.7"/>
<rect x="666.2" y="101.90" width="3.8" height="17.6" rx="1.8" fill="#c4c4c4" stroke="#2e2e2e" stroke-width="1.1"/>
<line x1="668.10" y1="102.70" x2="668.10" y2="118.70" stroke="#444" stroke-width="0.7"/>
<rect x="670.00" y="103.80" width="4.60" height="13.80" fill="#fff" stroke="#2e2e2e" stroke-width="0.9"/>
<line x1="671.50" y1="103.80" x2="671.50" y2="117.60" stroke="#4a4a4a" stroke-width="0.7"/>
<line x1="673.00" y1="103.80" x2="673.00" y2="117.60" stroke="#4a4a4a" stroke-width="0.7"/>
<path d="M674.6,103.80 L677.0,102.30 H686.9 Q687.9,102.30 687.9,103.30 V118.10 Q687.9,119.10 686.9,119.10 H677.0 L674.6,117.60 Z" fill="#fff" stroke="#4a4a4a" stroke-width="0.9"/>
<line x1="677.00" y1="102.30" x2="677.00" y2="119.10" stroke="#4a4a4a" stroke-width="0.6"/>
<line x1="670.00" y1="105.70" x2="687.90" y2="105.70" stroke="#4a4a4a" stroke-width="0.7"/>
<line x1="670.00" y1="109.40" x2="687.90" y2="109.40" stroke="#4a4a4a" stroke-width="0.7"/>
<line x1="670.00" y1="112.00" x2="687.90" y2="112.00" stroke="#4a4a4a" stroke-width="0.7"/>
<line x1="670.00" y1="115.70" x2="687.90" y2="115.70" stroke="#4a4a4a" stroke-width="0.7"/>
<rect x="687.90" y="104.50" width="7.50" height="12.40" fill="#a8a8a8" stroke="#333" stroke-width="0.8"/>
<line x1="690.40" y1="104.50" x2="690.40" y2="116.90" stroke="#3a3a3a" stroke-width="1.4"/>
<line x1="693.40" y1="104.50" x2="693.40" y2="116.90" stroke="#555" stroke-width="1.2"/>
<line x1="687.90" y1="108.50" x2="695.40" y2="108.50" stroke="#eee" stroke-width="0.5"/>
<line x1="687.90" y1="112.90" x2="695.40" y2="112.90" stroke="#eee" stroke-width="0.5"/>
<rect x="695.40" y="105.30" width="7.10" height="10.80" fill="none" stroke="#3a3a3a" stroke-width="0.9"/>
<line x1="695.40" y1="107.70" x2="702.50" y2="107.70" stroke="#4a4a4a" stroke-width="0.7"/>
<line x1="695.40" y1="110.70" x2="702.50" y2="110.70" stroke="#4a4a4a" stroke-width="0.6"/>
<line x1="695.40" y1="113.70" x2="702.50" y2="113.70" stroke="#4a4a4a" stroke-width="0.7"/>
<rect x="666.2" y="129.60" width="3.8" height="17.6" rx="1.8" fill="#c4c4c4" stroke="#2e2e2e" stroke-width="1.1"/>
<line x1="668.10" y1="130.40" x2="668.10" y2="146.40" stroke="#444" stroke-width="0.7"/>
<rect x="670.00" y="131.50" width="4.60" height="13.80" fill="#fff" stroke="#2e2e2e" stroke-width="0.9"/>
<line x1="671.50" y1="131.50" x2="671.50" y2="145.30" stroke="#4a4a4a" stroke-width="0.7"/>
<line x1="673.00" y1="131.50" x2="673.00" y2="145.30" stroke="#4a4a4a" stroke-width="0.7"/>
<path d="M674.6,131.50 L677.0,130.00 H686.9 Q687.9,130.00 687.9,131.00 V145.80 Q687.9,146.80 686.9,146.80 H677.0 L674.6,145.30 Z" fill="#fff" stroke="#4a4a4a" stroke-width="0.9"/>
<line x1="677.00" y1="130.00" x2="677.00" y2="146.80" stroke="#4a4a4a" stroke-width="0.6"/>
<line x1="670.00" y1="133.40" x2="687.90" y2="133.40" stroke="#4a4a4a" stroke-width="0.7"/>
<line x1="670.00" y1="137.10" x2="687.90" y2="137.10" stroke="#4a4a4a" stroke-width="0.7"/>
<line x1="670.00" y1="139.70" x2="687.90" y2="139.70" stroke="#4a4a4a" stroke-width="0.7"/>
<line x1="670.00" y1="143.40" x2="687.90" y2="143.40" stroke="#4a4a4a" stroke-width="0.7"/>
<rect x="687.90" y="132.20" width="7.50" height="12.40" fill="#a8a8a8" stroke="#333" stroke-width="0.8"/>
<line x1="690.40" y1="132.20" x2="690.40" y2="144.60" stroke="#3a3a3a" stroke-width="1.4"/>
<line x1="693.40" y1="132.20" x2="693.40" y2="144.60" stroke="#555" stroke-width="1.2"/>
<line x1="687.90" y1="136.20" x2="695.40" y2="136.20" stroke="#eee" stroke-width="0.5"/>
<line x1="687.90" y1="140.60" x2="695.40" y2="140.60" stroke="#eee" stroke-width="0.5"/>
<rect x="695.40" y="133.00" width="7.10" height="10.80" fill="none" stroke="#3a3a3a" stroke-width="0.9"/>
<line x1="695.40" y1="135.40" x2="702.50" y2="135.40" stroke="#4a4a4a" stroke-width="0.7"/>
<line x1="695.40" y1="138.40" x2="702.50" y2="138.40" stroke="#4a4a4a" stroke-width="0.6"/>
<line x1="695.40" y1="141.40" x2="702.50" y2="141.40" stroke="#4a4a4a" stroke-width="0.7"/>
<rect x="737.80" y="57.00" width="22.00" height="89.10" fill="none" stroke="#4a4a4a" stroke-width="1.0"/>
<path d="M738.4,90.5 H749.6 A9.6,9.6 0 0 1 749.6,109.7 H738.4" fill="none" stroke="#4a4a4a" stroke-width="0.9"/>
<circle cx="749.60" cy="100.10" r="7.00" fill="none" stroke="#2e2e2e" stroke-width="1.0"/>
<line x1="738.00" y1="100.10" x2="765.70" y2="100.10" stroke="#4a4a4a" stroke-width="0.6"/>
<line x1="749.60" y1="88.00" x2="749.60" y2="112.20" stroke="#4a4a4a" stroke-width="0.7" stroke-dasharray="5 1.5 1.5 1.5" stroke-dashoffset="-5.85"/>
<path d="M759.8,57.10 H768.0 Q770.8,58.40 770.8,61.50 V68.50 Q770.8,71.60 768.0,72.90 H759.8" fill="none" stroke="#4a4a4a" stroke-width="0.9"/>
<path d="M768.6,57.80 Q770.4,59.50 770.4,62.00 V68.00 Q770.4,70.50 768.6,72.20" fill="none" stroke="#3a3a3a" stroke-width="1.4"/>
<line x1="768.00" y1="57.10" x2="768.00" y2="72.90" stroke="#4a4a4a" stroke-width="0.7"/>
<line x1="763.50" y1="61.40" x2="763.50" y2="68.60" stroke="#4a4a4a" stroke-width="0.6" stroke-dasharray="1.5 1"/>
<line x1="766.50" y1="61.40" x2="766.50" y2="68.60" stroke="#4a4a4a" stroke-width="0.6" stroke-dasharray="1.5 1"/>
<line x1="751.50" y1="65.00" x2="780.40" y2="65.00" stroke="#4a4a4a" stroke-width="0.8"/>
<path d="M759.8,128.00 H768.0 Q770.8,129.30 770.8,132.40 V139.40 Q770.8,142.50 768.0,143.80 H759.8" fill="none" stroke="#4a4a4a" stroke-width="0.9"/>
<path d="M768.6,128.70 Q770.4,130.40 770.4,132.90 V138.90 Q770.4,141.40 768.6,143.10" fill="none" stroke="#3a3a3a" stroke-width="1.4"/>
<line x1="768.00" y1="128.00" x2="768.00" y2="143.80" stroke="#4a4a4a" stroke-width="0.7"/>
<line x1="763.50" y1="132.30" x2="763.50" y2="139.50" stroke="#4a4a4a" stroke-width="0.6" stroke-dasharray="1.5 1"/>
<line x1="766.50" y1="132.30" x2="766.50" y2="139.50" stroke="#4a4a4a" stroke-width="0.6" stroke-dasharray="1.5 1"/>
<line x1="751.50" y1="135.90" x2="780.40" y2="135.90" stroke="#4a4a4a" stroke-width="0.8"/>
</g>
<g id="frontview">
<rect x="93.30" y="232.70" width="92.00" height="92.00" fill="none" stroke="#4a4a4a" stroke-width="1.0"/>
<line x1="139.30" y1="213.00" x2="139.30" y2="233.00" stroke="#4a4a4a" stroke-width="0.8"/>
<line x1="139.30" y1="243.00" x2="139.30" y2="250.20" stroke="#4a4a4a" stroke-width="0.8"/>
<line x1="139.30" y1="259.00" x2="139.30" y2="298.50" stroke="#4a4a4a" stroke-width="0.8"/>
<line x1="139.30" y1="307.00" x2="139.30" y2="314.50" stroke="#4a4a4a" stroke-width="0.8"/>
<line x1="139.30" y1="325.80" x2="139.30" y2="344.40" stroke="#4a4a4a" stroke-width="0.8"/>
<line x1="73.60" y1="278.70" x2="94.00" y2="278.70" stroke="#4a4a4a" stroke-width="0.8"/>
<line x1="101.00" y1="278.70" x2="109.50" y2="278.70" stroke="#4a4a4a" stroke-width="0.8"/>
<line x1="119.50" y1="278.70" x2="168.00" y2="278.70" stroke="#4a4a4a" stroke-width="0.8"/>
<line x1="170.50" y1="278.70" x2="177.50" y2="278.70" stroke="#4a4a4a" stroke-width="0.8"/>
<line x1="179.00" y1="278.70" x2="205.00" y2="278.70" stroke="#4a4a4a" stroke-width="0.8"/>
<circle cx="139.30" cy="278.70" r="25.30" fill="none" stroke="#4a4a4a" stroke-width="0.8"/>
<circle cx="139.30" cy="278.70" r="19.30" fill="none" stroke="#4a4a4a" stroke-width="0.8"/>
<circle cx="139.30" cy="278.70" r="11.90" fill="none" stroke="#2e2e2e" stroke-width="1.15"/>
<polygon points="150.57,283.37 143.97,289.97 134.63,289.97 128.03,283.37 128.03,274.03 134.63,267.43 143.97,267.43 150.57,274.03" fill="none" stroke="#4a4a4a" stroke-width="0.7"/>
<path d="M119.51,306.96 A34.5,34.5 0 0 1 119.51,250.44" fill="none" stroke="#4a4a4a" stroke-width="0.8"/>
<path d="M128.64,245.89 A34.5,34.5 0 0 1 139.90,244.21" fill="none" stroke="#4a4a4a" stroke-width="0.8"/>
<path d="M147.65,245.22 A34.5,34.5 0 0 1 151.66,246.49" fill="none" stroke="#4a4a4a" stroke-width="0.8"/>
<path d="M140.50,313.18 A34.5,34.5 0 0 1 121.53,308.27" fill="none" stroke="#4a4a4a" stroke-width="0.8"/>
<path d="M155.50,309.16 A34.5,34.5 0 0 1 147.65,312.18" fill="none" stroke="#4a4a4a" stroke-width="0.8"/>
<path d="M160.54,251.51 A34.5,34.5 0 0 1 173.46,273.90" fill="none" stroke="#4a4a4a" stroke-width="0.8"/>
<path d="M173.46,283.50 A34.5,34.5 0 0 1 160.54,305.89" fill="none" stroke="#4a4a4a" stroke-width="0.8"/>
<line x1="145.30" y1="289.09" x2="159.80" y2="314.21" stroke="#4a4a4a" stroke-width="0.6"/>
<line x1="133.30" y1="289.09" x2="118.80" y2="314.21" stroke="#4a4a4a" stroke-width="0.6"/>
<line x1="133.30" y1="268.31" x2="118.80" y2="243.19" stroke="#4a4a4a" stroke-width="0.6"/>
<line x1="145.30" y1="268.31" x2="159.80" y2="243.19" stroke="#4a4a4a" stroke-width="0.6"/>
<circle cx="173.80" cy="278.70" r="4.50" fill="none" stroke="#2e2e2e" stroke-width="1.05"/>
<path d="M177.89,275.91 A4.95,4.95 0 1 0 176.47,282.87" fill="none" stroke="#4a4a4a" stroke-width="0.5"/>
<circle cx="156.55" cy="308.58" r="4.50" fill="none" stroke="#2e2e2e" stroke-width="1.05"/>
<path d="M160.64,305.78 A4.95,4.95 0 1 0 159.22,312.74" fill="none" stroke="#4a4a4a" stroke-width="0.5"/>
<line x1="154.95" y1="305.81" x2="158.15" y2="311.35" stroke="#4a4a4a" stroke-width="0.6"/>
<circle cx="122.05" cy="308.58" r="4.50" fill="none" stroke="#2e2e2e" stroke-width="1.05"/>
<path d="M126.14,305.78 A4.95,4.95 0 1 0 124.72,312.74" fill="none" stroke="#4a4a4a" stroke-width="0.5"/>
<line x1="123.65" y1="305.81" x2="120.45" y2="311.35" stroke="#4a4a4a" stroke-width="0.6"/>
<circle cx="104.80" cy="278.70" r="4.50" fill="none" stroke="#2e2e2e" stroke-width="1.05"/>
<path d="M108.89,275.91 A4.95,4.95 0 1 0 107.47,282.87" fill="none" stroke="#4a4a4a" stroke-width="0.5"/>
<circle cx="122.05" cy="248.82" r="4.50" fill="none" stroke="#2e2e2e" stroke-width="1.05"/>
<path d="M126.14,246.03 A4.95,4.95 0 1 0 124.72,252.99" fill="none" stroke="#4a4a4a" stroke-width="0.5"/>
<line x1="123.65" y1="251.59" x2="120.45" y2="246.05" stroke="#4a4a4a" stroke-width="0.6"/>
<circle cx="156.55" cy="248.82" r="4.50" fill="none" stroke="#2e2e2e" stroke-width="1.05"/>
<path d="M160.64,246.03 A4.95,4.95 0 1 0 159.22,252.99" fill="none" stroke="#4a4a4a" stroke-width="0.5"/>
<line x1="154.95" y1="251.59" x2="158.15" y2="246.05" stroke="#4a4a4a" stroke-width="0.6"/>
<circle cx="103.40" cy="242.50" r="4.20" fill="none" stroke="#2e2e2e" stroke-width="1.2"/>
<line x1="97.20" y1="242.50" x2="109.60" y2="242.50" stroke="#4a4a4a" stroke-width="0.7"/>
<line x1="103.40" y1="236.30" x2="103.40" y2="248.70" stroke="#4a4a4a" stroke-width="0.7"/>
<circle cx="175.50" cy="242.50" r="4.20" fill="none" stroke="#2e2e2e" stroke-width="1.2"/>
<line x1="169.30" y1="242.50" x2="181.70" y2="242.50" stroke="#4a4a4a" stroke-width="0.7"/>
<line x1="175.50" y1="236.30" x2="175.50" y2="248.70" stroke="#4a4a4a" stroke-width="0.7"/>
<circle cx="103.40" cy="315.10" r="4.20" fill="none" stroke="#2e2e2e" stroke-width="1.2"/>
<line x1="97.20" y1="315.10" x2="109.60" y2="315.10" stroke="#4a4a4a" stroke-width="0.7"/>
<line x1="103.40" y1="308.90" x2="103.40" y2="321.30" stroke="#4a4a4a" stroke-width="0.7"/>
<circle cx="175.50" cy="315.10" r="4.20" fill="none" stroke="#2e2e2e" stroke-width="1.2"/>
<line x1="169.30" y1="315.10" x2="181.70" y2="315.10" stroke="#4a4a4a" stroke-width="0.7"/>
<line x1="175.50" y1="308.90" x2="175.50" y2="321.30" stroke="#4a4a4a" stroke-width="0.7"/>
<line x1="93.40" y1="209.60" x2="185.40" y2="209.60" stroke="#4a4a4a" stroke-width="1.0"/>
<polygon points="93.40,209.60 102.00,208.10 102.00,211.10" fill="#1c1c1c" stroke="#1c1c1c" stroke-width="0.3"/>
<polygon points="185.40,209.60 176.80,211.10 176.80,208.10" fill="#1c1c1c" stroke="#1c1c1c" stroke-width="0.3"/>
<line x1="93.40" y1="206.50" x2="93.40" y2="232.70" stroke="#4a4a4a" stroke-width="1.0"/>
<line x1="185.40" y1="205.60" x2="185.40" y2="232.70" stroke="#4a4a4a" stroke-width="1.0"/>
<text x="133.00" y="207.60" font-family='"Liberation Sans", "Noto Sans CJK SC", sans-serif' font-size="10.6" fill="#686868" textLength="14.2" lengthAdjust="spacingAndGlyphs">72</text>
<line x1="54.00" y1="232.70" x2="54.00" y2="324.70" stroke="#4a4a4a" stroke-width="1.0"/>
<polygon points="54.00,232.70 55.50,241.30 52.50,241.30" fill="#1c1c1c" stroke="#1c1c1c" stroke-width="0.3"/>
<polygon points="54.00,324.70 52.50,316.10 55.50,316.10" fill="#1c1c1c" stroke="#1c1c1c" stroke-width="0.3"/>
<line x1="50.30" y1="232.90" x2="91.00" y2="232.90" stroke="#4a4a4a" stroke-width="1.0"/>
<line x1="50.30" y1="324.70" x2="91.00" y2="324.70" stroke="#4a4a4a" stroke-width="1.0"/>
<text x="52.20" y="286.20" font-family='"Liberation Sans", "Noto Sans CJK SC", sans-serif' font-size="10.6" fill="#686868" textLength="15" lengthAdjust="spacingAndGlyphs" transform="rotate(-90 52.20 286.20)">72</text>
<line x1="69.40" y1="267.70" x2="69.40" y2="289.80" stroke="#4a4a4a" stroke-width="1.0"/>
<polygon points="69.40,267.70 70.90,273.70 67.90,273.70" fill="#1c1c1c" stroke="#1c1c1c" stroke-width="0.3"/>
<polygon points="69.40,289.80 67.90,283.80 70.90,283.80" fill="#1c1c1c" stroke="#1c1c1c" stroke-width="0.3"/>
<line x1="65.70" y1="267.70" x2="128.50" y2="267.70" stroke="#4a4a4a" stroke-width="1.0"/>
<line x1="65.70" y1="289.80" x2="128.50" y2="289.80" stroke="#4a4a4a" stroke-width="1.0"/>
<text x="66.00" y="284.20" font-family='"Liberation Sans", "Noto Sans CJK SC", sans-serif' font-size="10.6" fill="#686868" textLength="11" lengthAdjust="spacingAndGlyphs" transform="rotate(-90 66.00 284.20)">17</text>
<line x1="93.50" y1="371.00" x2="237.70" y2="371.00" stroke="#4a4a4a" stroke-width="1.0"/>
<polygon points="93.50,371.00 102.10,369.50 102.10,372.50" fill="#1c1c1c" stroke="#1c1c1c" stroke-width="0.3"/>
<polygon points="237.70,371.00 229.10,372.50 229.10,369.50" fill="#1c1c1c" stroke="#1c1c1c" stroke-width="0.3"/>
<line x1="93.50" y1="324.70" x2="93.50" y2="374.50" stroke="#4a4a4a" stroke-width="1.0"/>
<line x1="237.70" y1="336.00" x2="237.70" y2="374.50" stroke="#4a4a4a" stroke-width="1.0"/>
<text x="162.40" y="369.20" font-family='"Liberation Sans", "Noto Sans CJK SC", sans-serif' font-size="11.2" fill="#686868" textLength="6.6" lengthAdjust="spacingAndGlyphs">C</text>
<line x1="197.40" y1="221.40" x2="210.20" y2="221.40" stroke="#4a4a4a" stroke-width="0.9"/>
<line x1="223.70" y1="221.40" x2="237.70" y2="221.40" stroke="#4a4a4a" stroke-width="0.9"/>
<line x1="237.70" y1="221.40" x2="237.70" y2="235.70" stroke="#4a4a4a" stroke-width="0.9"/>
<line x1="237.70" y1="247.60" x2="237.70" y2="272.60" stroke="#4a4a4a" stroke-width="0.9"/>
<line x1="237.70" y1="284.60" x2="237.70" y2="309.60" stroke="#4a4a4a" stroke-width="0.9"/>
<line x1="237.70" y1="321.50" x2="237.70" y2="336.00" stroke="#4a4a4a" stroke-width="0.9"/>
<line x1="197.30" y1="335.40" x2="216.00" y2="335.40" stroke="#4a4a4a" stroke-width="0.9"/>
<line x1="223.70" y1="335.40" x2="237.70" y2="335.40" stroke="#4a4a4a" stroke-width="0.9"/>
<line x1="97.23" y1="304.78" x2="221.48" y2="227.74" stroke="#4a4a4a" stroke-width="0.8"/>
<polygon points="109.98,296.88 103.80,302.48 102.22,299.93" fill="#1c1c1c" stroke="#1c1c1c" stroke-width="0.3"/>
<polygon points="168.62,260.52 174.80,254.92 176.38,257.47" fill="#1c1c1c" stroke="#1c1c1c" stroke-width="0.3"/>
<text x="197.80" y="239.40" font-family='"Liberation Sans", "Noto Sans CJK SC", sans-serif' font-size="11.2" fill="#686868" textLength="23.5" lengthAdjust="spacingAndGlyphs" transform="rotate(-31.8 197.80 239.40)">ø54</text>
<line x1="110.50" y1="296.00" x2="113.50" y2="300.50" stroke="#4a4a4a" stroke-width="0.7"/>
<path d="M158.8,247.2 L206.4,191.3 H216.8" fill="none" stroke="#4a4a4a" stroke-width="0.8"/>
<polygon points="158.80,247.20 162.04,240.77 164.63,242.97" fill="#1c1c1c" stroke="#1c1c1c" stroke-width="0.3"/>
<text x="217.20" y="196.50" font-family='"Liberation Sans", "Noto Sans CJK SC", sans-serif' font-size="10.6" fill="#686868" textLength="31.6" lengthAdjust="spacingAndGlyphs">6-M8</text>
<text x="218.30" y="210.20" font-family='"Liberation Serif", "Noto Serif CJK SC", serif' font-size="10.5" fill="#111" font-weight="bold" textLength="22.3" lengthAdjust="spacingAndGlyphs">深16</text>
<text x="197.20" y="257.30" font-family='"Liberation Sans", "Noto Sans CJK SC", sans-serif' font-size="15.8" fill="#151515" font-weight="500">气动</text>
<text x="197.20" y="277.50" font-family='"Liberation Sans", "Noto Sans CJK SC", sans-serif' font-size="15.8" fill="#151515" font-weight="500">元件</text>
<text x="197.20" y="297.70" font-family='"Liberation Sans", "Noto Sans CJK SC", sans-serif' font-size="15.8" fill="#151515" font-weight="500">安装</text>
<text x="197.20" y="317.90" font-family='"Liberation Sans", "Noto Sans CJK SC", sans-serif' font-size="15.8" fill="#151515" font-weight="500">空间</text>
<path d="M170.5,256.3 H162.2 Q159.7,256.3 159.7,258.8 V269.5" fill="none" stroke="#262626" stroke-width="1.0"/>
<line x1="170.50" y1="255.90" x2="183.60" y2="255.90" stroke="#262626" stroke-width="1.3" stroke-dasharray="3.6 1.6"/>
<line x1="170.50" y1="271.10" x2="183.60" y2="271.10" stroke="#262626" stroke-width="1.3" stroke-dasharray="3.6 1.6"/>
<line x1="183.60" y1="255.90" x2="183.60" y2="271.10" stroke="#262626" stroke-width="1.0"/>
<path d="M169.6,258.0 L172.0,270.8" fill="none" stroke="#262626" stroke-width="1.0"/>
<line x1="162.50" y1="258.20" x2="169.50" y2="258.20" stroke="#4a4a4a" stroke-width="0.6"/>
<line x1="162.00" y1="256.30" x2="162.00" y2="270.00" stroke="#4a4a4a" stroke-width="0.6"/>
<line x1="151.50" y1="263.50" x2="192.80" y2="263.50" stroke="#4a4a4a" stroke-width="0.8"/>
<line x1="170.50" y1="288.50" x2="183.60" y2="288.50" stroke="#262626" stroke-width="1.3" stroke-dasharray="3.6 1.6"/>
<line x1="170.50" y1="299.30" x2="183.60" y2="299.30" stroke="#262626" stroke-width="1.3" stroke-dasharray="3.6 1.6"/>
<line x1="183.60" y1="288.50" x2="183.60" y2="299.30" stroke="#262626" stroke-width="1.0"/>
<line x1="170.50" y1="288.50" x2="170.50" y2="299.30" stroke="#262626" stroke-width="1.0"/>
<path d="M170.5,288.9 C163,288.9 159.1,291 159.1,294.1 C159.1,297.2 163,299.3 170.5,299.3" fill="none" stroke="#262626" stroke-width="1.0"/>
<path d="M169.0,289.6 Q166.2,294.1 169.0,298.8" fill="none" stroke="#4a4a4a" stroke-width="0.7"/>
<line x1="151.50" y1="293.90" x2="192.80" y2="293.90" stroke="#4a4a4a" stroke-width="0.8"/>
<line x1="186.00" y1="254.50" x2="186.00" y2="304.50" stroke="#4a4a4a" stroke-width="0.9"/>
<line x1="185.30" y1="278.70" x2="205.00" y2="278.70" stroke="#4a4a4a" stroke-width="0.8"/>
</g>
</svg>
</body>
</html>
